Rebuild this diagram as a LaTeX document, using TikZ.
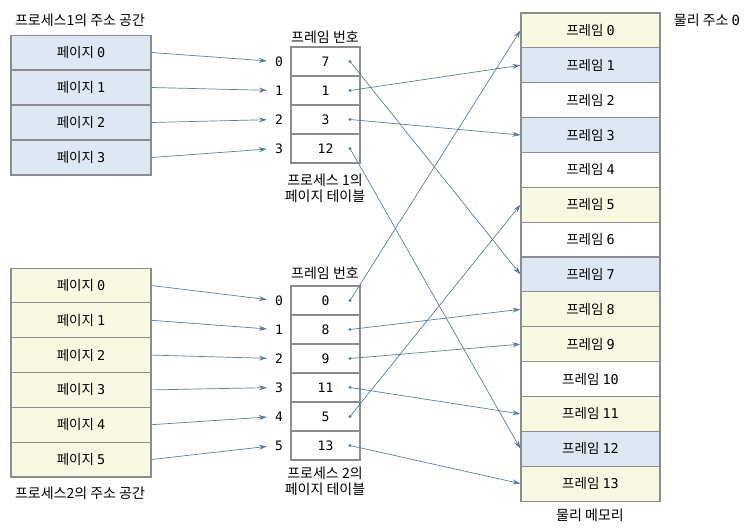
\documentclass[tikz,border=0pt]{standalone}
\usepackage{fontspec}
\setmainfont{Noto Sans CJK KR}
\newfontfamily\monodigits{DejaVu Sans Mono}
\usetikzlibrary{arrows.meta}
\definecolor{pageblue}{HTML}{DEE8F5}
\definecolor{pageyellow}{HTML}{F8F8E3}
\definecolor{boxgray}{HTML}{8C8C8C}
\definecolor{arrowblue}{HTML}{5A7EA2}
\tikzset{
  cell/.style={draw=boxgray, line width=1.1pt, minimum width=140pt, minimum height=34.9pt, inner sep=0pt, font=\fontsize{13.5}{15}\selectfont},
  entry/.style={draw=boxgray, line width=1.1pt, minimum width=69pt, minimum height=29pt, inner sep=0pt, font=\monodigits\fontsize{13}{15}\selectfont},
  idx/.style={inner sep=0pt, font=\monodigits\fontsize{13}{15}\selectfont},
  link/.style={draw=arrowblue, line width=0.7pt, -{Stealth[length=8pt,width=5pt]}},
  caption/.style={font=\fontsize{14}{16}\selectfont, align=center, inner sep=0pt},
}
\begin{document}
\begin{tikzpicture}[x=1pt,y=-1pt]
  \useasboundingbox (0,0) rectangle (750,531);
  % physical memory
  \foreach \c [count=\i from 0] in {pageyellow,pageblue,white,pageblue,white,pageyellow,white,pageblue,pageyellow,pageyellow,white,pageyellow,pageblue,pageyellow}
    \node[cell, fill=\c, minimum width=139pt] (fr\i) at (590.5, 30.43+34.86*\i) {프레임 {\monodigits\i}};
  \node[caption] (addr) at (707,20) {물리 주소 {\monodigits 0}};
  \node[caption] (mem) at (590,515) {물리 메모리};
  % process 1
  \node[caption] (sp1) at (80,20) {프로세스1의 주소 공간};
  \foreach \i in {0,...,3}
    \node[cell, fill=pageblue] (pa\i) at (81, 52.5+35*\i) {페이지 {\monodigits\i}};
  \node[caption] (fn1) at (325,37) {프레임 번호};
  \foreach \v [count=\i from 0] in {7,1,3,12} {
    \node[entry] (ta\i) at (325.5, 61.5+29*\i) {\v};
    \node[idx] (ia\i) at (279, 61.5+29*\i) {\i};
    \coordinate (da\i) at (350, 61.5+29*\i);
    \fill[arrowblue] (da\i) circle (1.6pt);
    \draw[link, shorten >=8pt] (pa\i.east) -- (ia\i.west);
    \draw[link] (da\i) -- (fr\v.west);
  }
  \node[caption] (pt1) at (325,188) {프로세스 1의\\페이지 테이블};
  % process 2
  \foreach \i in {0,...,5}
    \node[cell, fill=pageyellow] (pb\i) at (81, 285.5+34.8*\i) {페이지 {\monodigits\i}};
  \node[caption] (sp2) at (80,493) {프로세스2의 주소 공간};
  \node[caption] (fn2) at (325,273) {프레임 번호};
  \foreach \v [count=\i from 0] in {0,8,9,11,5,13} {
    \node[entry] (tb\i) at (325.5, 300.5+29*\i) {\v};
    \node[idx] (ib\i) at (279, 300.5+29*\i) {\i};
    \coordinate (db\i) at (350, 300.5+29*\i);
    \fill[arrowblue] (db\i) circle (1.6pt);
    \draw[link, shorten >=8pt] (pb\i.east) -- (ib\i.west);
    \draw[link] (db\i) -- (fr\v.west);
  }
  \node[caption] (pt2) at (325,481) {프로세스 2의\\페이지 테이블};
\end{tikzpicture}
\end{document}
